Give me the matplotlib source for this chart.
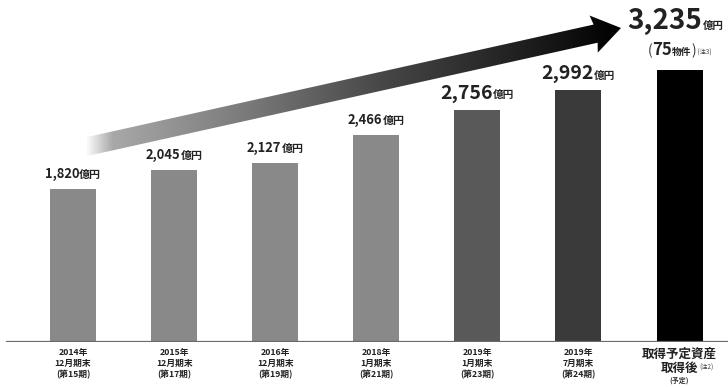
import numpy as np
import matplotlib
matplotlib.use("Agg")
import matplotlib.pyplot as plt
from matplotlib.offsetbox import TextArea, HPacker, AnnotationBbox
from matplotlib.patches import Polygon
from matplotlib.colors import LinearSegmentedColormap

plt.rcParams['font.family'] = ['Noto Sans CJK JP', 'DejaVu Sans']

# Asset size (億円) by fiscal period
periods = [
    "2014年\n12月期末\n(第15期)",
    "2015年\n12月期末\n(第17期)",
    "2016年\n12月期末\n(第19期)",
    "2018年\n1月期末\n(第21期)",
    "2019年\n1月期末\n(第23期)",
    "2019年\n7月期末\n(第24期)",
    "",
]
values = [1820, 2045, 2127, 2466, 2756, 2992, 3235]
bar_colors = ["#898989", "#898989", "#898989", "#898989", "#595959", "#3a3a3a", "#000000"]
label_sizes = [9.3, 9.3, 9.3, 9.3, 14, 14]
properties_count = 75

W, H = 728, 387
fig = plt.figure(figsize=(W / 100, H / 100), dpi=100)
fig.patch.set_facecolor("white")

# main bar axes
ax = fig.add_axes([0, 45 / H, 1, 342 / H])
ax.patch.set_visible(False)
x = np.arange(len(values))
ax.bar(x, values, width=0.455, color=bar_colors, zorder=3)
ax.set_xlim(-0.722, 6.479)
ax.set_ylim(0, 4067)
ax.axhline(0, xmin=7 / W, xmax=1, color="#6a6a6a", lw=1.6, zorder=4)
for s in ax.spines.values():
    s.set_visible(False)
ax.set_yticks([])
ax.set_xticks(x)
ax.set_xticklabels(periods, fontsize=6.3, color="#222222", linespacing=1.3,
                   fontweight="bold")
ax.tick_params(axis="x", length=0, pad=4)


def value_box(num, size, unit_size, sep=0):
    a = TextArea(num, textprops=dict(fontsize=size, fontweight="bold", color="#222222"))
    b = TextArea("億円", textprops=dict(fontsize=unit_size, fontweight="bold", color="#222222"))
    return HPacker(children=[a, b], align="baseline", pad=0, sep=sep)


for i, v in enumerate(values[:-1]):
    sz = label_sizes[i]
    box = value_box(f"{v:,}", sz, sz * 0.55 if sz > 10 else sz * 0.85)
    ab = AnnotationBbox(box, (i, v), xybox=(0, 5.5), boxcoords="offset points",
                        box_alignment=(0.5, 0), frameon=False, pad=0, zorder=5)
    ax.add_artist(ab)

# last bar: large total with property count
last = len(values) - 1
big = value_box(f"{values[last]:,}", 20, 7.5)
ab = AnnotationBbox(big, (last, values[last]), xybox=(-3, 25), boxcoords="offset points",
                    box_alignment=(0.5, 0), frameon=False, pad=0, zorder=5)
ax.add_artist(ab)
cnt = HPacker(children=[
    TextArea("(", textprops=dict(fontsize=10, color="#333333")),
    TextArea(f"{properties_count}", textprops=dict(fontsize=12, fontweight="bold", color="#222222")),
    TextArea("物件", textprops=dict(fontsize=7, fontweight="bold", color="#222222")),
    TextArea(")", textprops=dict(fontsize=10, color="#333333")),
    TextArea(" (注3)", textprops=dict(fontsize=4.5, color="#444444")),
], align="baseline", pad=0, sep=0)
ab = AnnotationBbox(cnt, (last, values[last]), xybox=(0, 8), boxcoords="offset points",
                    box_alignment=(0.5, 0), frameon=False, pad=0, zorder=5)
ax.add_artist(ab)

# last category label
tf = ax.get_xaxis_transform()
ax.text(last, -0.018, "取得予定資産", transform=tf, ha="center", va="top",
        fontsize=9, fontweight="bold", color="#222222")
ax.text(last, -0.058, "取得後", transform=tf, ha="center", va="top",
        fontsize=9, fontweight="bold", color="#222222")
ax.text(last + 0.27, -0.062, "(注2)", transform=tf, ha="center", va="top",
        fontsize=4.5, color="#444444")
ax.text(last, -0.100, "(予定)", transform=tf, ha="center", va="top",
        fontsize=5, fontweight="bold", color="#333333")

# growth arrow with a light-to-dark gradient (pixel space overlay)
ov = fig.add_axes([0, 0, 1, 1], zorder=-1)
ov.set_xlim(0, W)
ov.set_ylim(H, 0)
ov.axis("off")
start = np.array([85.0, 147.0])
tip = np.array([621.0, 28.0])
d = (tip - start) / np.linalg.norm(tip - start)
n = np.array([-d[1], d[0]])
body_hw, head_hw, head_len = 9.3, 19.0, 26.0
neck = tip - d * head_len
pts = np.array([
    start + n * body_hw,
    neck + n * body_hw,
    neck + n * head_hw - d * 2,
    tip,
    neck - n * head_hw - d * 2,
    neck - n * body_hw,
    start - n * body_hw,
])
poly = Polygon(pts, closed=True, facecolor="none", edgecolor="none")
ov.add_patch(poly)
cmap = LinearSegmentedColormap.from_list(
    "fade", [(0.0, "#ffffff"), (0.05, "#a8a8a8"), (0.3, "#7a7a7a"),
             (0.55, "#484848"), (0.85, "#1a1a1a"), (1.0, "#000000")])
grad = np.linspace(0, 1, 512).reshape(1, -1)
img = ov.imshow(grad, cmap=cmap, extent=(start[0], tip[0], 160, 10),
                aspect="auto", interpolation="bilinear")
img.set_clip_path(poly)
ov.set_xlim(0, W)
ov.set_ylim(H, 0)

fig.savefig("out.png", dpi=100, facecolor="white")
